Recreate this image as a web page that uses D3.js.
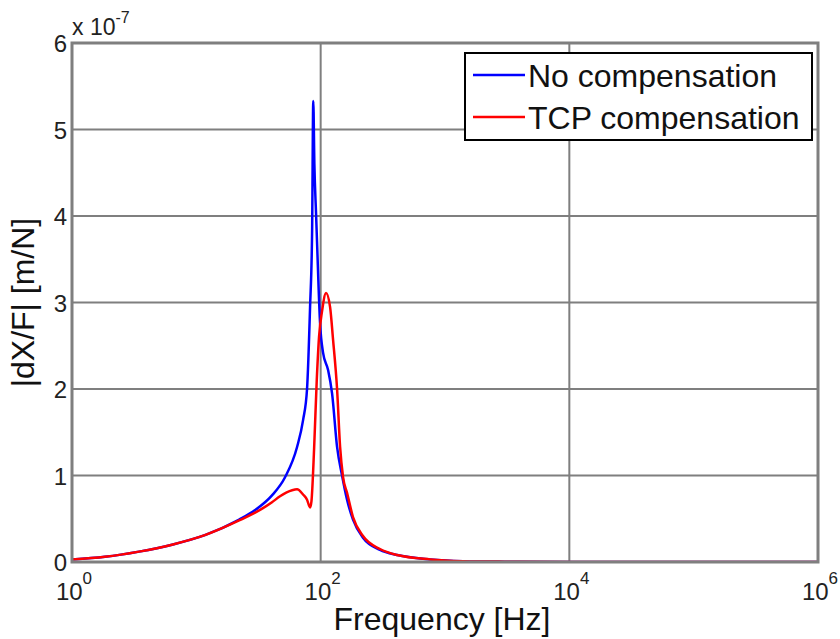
<!DOCTYPE html>
<html>
<head>
<meta charset="utf-8">
<script src="https://cdn.jsdelivr.net/npm/d3@7"></script>
<style>
  body { margin: 0; background: white; }
  svg { display: block; font-family: "Liberation Sans", Arial, sans-serif; }
</style>
</head>
<body>
<svg id="chart" width="840" height="639"></svg>
<script>
// frequency response, magnitudes in units of 1e-7 m/N
const blueFreq = [1, 1.84, 3.46, 6.37, 11.7, 22.1, 29.7, 40.6, 51.7, 64.6, 72.2, 77.7, 82.2, 85.3, 87.2, 89.0, 91.8, 93.5, 98.9, 104.5, 114.7, 123.5, 135.5, 148.6, 163, 182, 219, 300, 412, 760, 1400, 3000, 10000, 1e6];
const blueMag = [0.03, 0.06, 0.12, 0.2, 0.31, 0.49, 0.6, 0.77, 0.98, 1.33, 1.64, 2.0, 2.95, 3.8, 5.33, 4.6, 4.03, 3.7, 2.76, 2.42, 2.22, 1.95, 1.33, 1.0, 0.72, 0.49, 0.28, 0.14, 0.08, 0.03, 0.01, 0.004, 0.001, 0];

const redFreq = [1, 1.84, 3.46, 6.37, 11.7, 22.1, 29.7, 40.6, 47.1, 58.9, 64.6, 72.2, 77.7, 82.2, 84.3, 88.5, 93, 97, 102.6, 110.5, 119, 125.8, 135.5, 143.3, 151.4, 163, 182, 219, 300, 412, 760, 1400, 3000, 10000, 1e6];
const redMag = [0.03, 0.06, 0.12, 0.2, 0.31, 0.48, 0.57, 0.69, 0.76, 0.83, 0.84, 0.78, 0.72, 0.63, 0.7, 1.3, 2.1, 2.6, 2.9, 3.11, 2.95, 2.57, 2.0, 1.33, 0.98, 0.8, 0.52, 0.3, 0.15, 0.08, 0.03, 0.01, 0.004, 0.001, 0];

const seriesNames = ["No compensation", "TCP compensation"];
const seriesColors = ["#0000ff", "#ff0000"];

const xTicks = [1, 100, 10000, 1000000];
const xTickExp = ["0", "2", "4", "6"];
const yTicks = [0, 1, 2, 3, 4, 5, 6];

const svg = d3.select("#chart");
const plotLeft = 72, plotRight = 818, plotTop = 43, plotBottom = 562;

const x = d3.scaleLog().domain([1, 1e6]).range([plotLeft, plotRight]);
const y = d3.scaleLinear().domain([0, 6]).range([plotBottom, plotTop]);

//grid lines
const gridColor = "#7f7f7f";
svg.append("g")
    .selectAll("line")
    .data(yTicks)
    .join("line")
    .attr("x1", plotLeft).attr("x2", plotRight)
    .attr("y1", d => y(d)).attr("y2", d => y(d))
    .attr("stroke", gridColor)
    .attr("stroke-width", 2);

svg.append("g")
    .selectAll("line")
    .data(xTicks)
    .join("line")
    .attr("x1", d => x(d)).attr("x2", d => x(d))
    .attr("y1", plotTop).attr("y2", plotBottom)
    .attr("stroke", gridColor)
    .attr("stroke-width", 2);

//curves
svg.append("clipPath").attr("id", "clip")
    .append("rect")
    .attr("x", plotLeft).attr("y", plotTop - 2)
    .attr("width", plotRight - plotLeft).attr("height", plotBottom - plotTop + 2);

const line = d3.line()
    .x(d => x(d[0]))
    .y(d => y(d[1]))
    .curve(d3.curveMonotoneX);

const series = [
    d3.zip(blueFreq, blueMag),
    d3.zip(redFreq, redMag)
];

svg.append("g")
    .attr("clip-path", "url(#clip)")
    .selectAll("path")
    .data(series)
    .join("path")
    .attr("d", d => line(d))
    .attr("fill", "none")
    .attr("stroke", (d, i) => seriesColors[i])
    .attr("stroke-width", 2.5)
    .attr("stroke-linejoin", "round");

//frame
svg.append("rect")
    .attr("x", plotLeft).attr("y", plotTop)
    .attr("width", plotRight - plotLeft).attr("height", plotBottom - plotTop)
    .attr("fill", "none")
    .attr("stroke", gridColor)
    .attr("stroke-width", 3);

//y tick labels
svg.append("g")
    .selectAll("text")
    .data(yTicks)
    .join("text")
    .attr("x", plotLeft - 5)
    .attr("y", d => y(d) + 9)
    .attr("text-anchor", "end")
    .style("font-size", "24px")
    .style("fill", "#222")
    .text(d => d);

//x tick labels (10^n)
const xl = svg.append("g")
    .selectAll("text")
    .data(xTicks)
    .join("text")
    .attr("x", d => x(d) + 2)
    .attr("y", 600)
    .attr("text-anchor", "middle")
    .style("font-size", "24px")
    .style("fill", "#222");
xl.append("tspan").text("10");
xl.append("tspan")
    .attr("dy", -16)
    .style("font-size", "17px")
    .text((d, i) => xTickExp[i]);

//exponent multiplier
const mult = svg.append("text")
    .attr("x", 72).attr("y", 35)
    .style("font-size", "23px")
    .style("fill", "#222");
mult.append("tspan").text("x 10");
mult.append("tspan").attr("dy", -12).style("font-size", "16px").text("-7");

//axis titles
svg.append("text")
    .attr("x", 442).attr("y", 630)
    .attr("text-anchor", "middle")
    .style("font-size", "32px")
    .style("fill", "#111")
    .text("Frequency [Hz]");

svg.append("text")
    .attr("transform", `translate(34,${(plotTop + plotBottom) / 2}) rotate(-90)`)
    .attr("text-anchor", "middle")
    .style("font-size", "32px")
    .style("fill", "#111")
    .text("|dX/F| [m/N]");

//legend
const lg = svg.append("g");
lg.append("rect")
    .attr("x", 465).attr("y", 53)
    .attr("width", 347).attr("height", 87)
    .attr("fill", "white")
    .attr("stroke", "#000")
    .attr("stroke-width", 2);

const rows = lg.selectAll("g.row")
    .data(seriesNames)
    .join("g")
    .attr("class", "row")
    .attr("transform", (d, i) => `translate(0,${75 + i * 42})`);
rows.append("line")
    .attr("x1", 473).attr("x2", 525)
    .attr("stroke", (d, i) => seriesColors[i])
    .attr("stroke-width", 2.5);
rows.append("text")
    .attr("x", 528).attr("y", 12)
    .style("font-size", "32px")
    .style("fill", "#111")
    .text(d => d);
</script>
</body>
</html>
